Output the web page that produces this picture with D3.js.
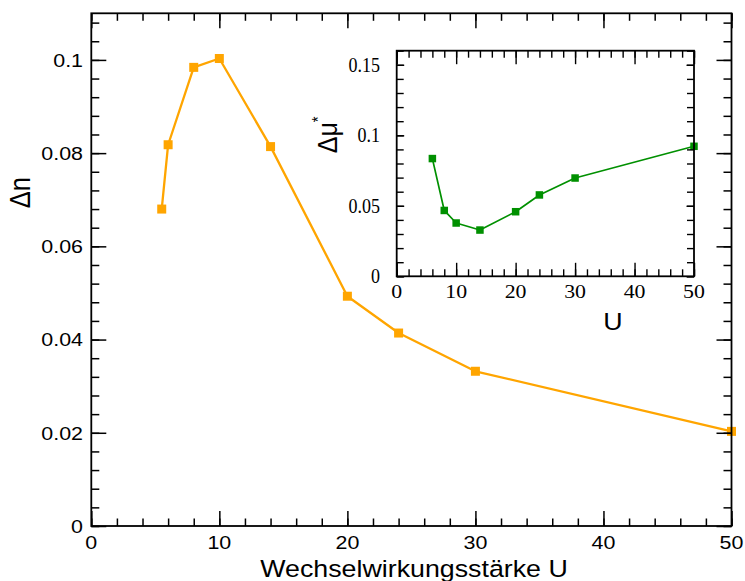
<!DOCTYPE html>
<html>
<head>
<meta charset="utf-8">
<script src="https://cdn.jsdelivr.net/npm/d3@7"></script>
<style>
  html, body { margin: 0; padding: 0; background: #fff; }
  svg { display: block; }
</style>
</head>
<body>
<svg id="chart" width="745" height="581"></svg>
<script>
// ---------------- data ----------------
const mainU = [5.5, 6, 8, 10, 14, 20, 24, 30, 50];
const mainDn = [0.068, 0.0818, 0.0984, 0.1003, 0.0814, 0.0493, 0.0414, 0.0332, 0.0203];
const mainXTicks = [0, 10, 20, 30, 40, 50];
const mainXTickLabels = ["0", "10", "20", "30", "40", "50"];
const mainYTicks = [0, 0.02, 0.04, 0.06, 0.08, 0.1];
const mainYTickLabels = ["0", "0.02", "0.04", "0.06", "0.08", "0.1"];

const insetU = [6, 8, 10, 14, 20, 24, 30, 50];
const insetDmu = [0.0835, 0.0467, 0.0378, 0.0328, 0.0458, 0.0577, 0.0697, 0.0922];
const insetXTicks = [0, 10, 20, 30, 40, 50];
const insetXTickLabels = ["0", "10", "20", "30", "40", "50"];
const insetYTicks = [0, 0.05, 0.1, 0.15];
const insetYTickLabels = ["0", "0.05", "0.1", "0.15"];

const mainXLabel = "Wechselwirkungsstärke U";
const insetXLabel = "U";

// ---------------- setup ----------------
const svg = d3.select("#chart");
const SX = 1.14; // horizontal stretch of glyphs as in the reference
const SANS = "'Liberation Sans', Arial, Helvetica, sans-serif";
const SERIF = "'Liberation Serif', 'Times New Roman', serif";

function label(g, txt, x, y, o = {}) {
  const t = g.append("text")
    .attr("transform", `translate(${x},${y}) scale(${o.sx ?? SX},1)` + (o.rot ? ` rotate(${o.rot})` : ""))
    .attr("text-anchor", o.anchor || "middle")
    .attr("font-family", o.font || SANS)
    .attr("font-size", o.size || 18.6)
    .attr("fill", "#000");
  if (o.dy) t.attr("dy", o.dy);
  t.text(txt);
  return t;
}

function frameAxes(g, x, y, o) {
  const [x0, x1] = x.range();
  const [y0, y1] = y.range(); // y0 bottom, y1 top
  const mk = (axis, tr) => {
    const a = g.append("g").attr("transform", tr).call(axis);
    a.select(".domain").remove();
    a.selectAll("text").remove();
    a.selectAll("line").attr("stroke", "#000").attr("stroke-width", o.tickW);
  };
  // minor
  mk(d3.axisBottom(x).tickValues(o.xMinor).tickSize(-o.xMinorLen).tickFormat(""), `translate(0,${y0})`);
  mk(d3.axisTop(x).tickValues(o.xMinor).tickSize(-o.xMinorLen).tickFormat(""), `translate(0,${y1})`);
  mk(d3.axisLeft(y).tickValues(o.yMinor).tickSize(-o.yMinorLen).tickFormat(""), `translate(${x0},0)`);
  mk(d3.axisRight(y).tickValues(o.yMinor).tickSize(-o.yMinorLen).tickFormat(""), `translate(${x1},0)`);
  // major
  mk(d3.axisBottom(x).tickValues(o.xMajor).tickSize(-o.xMajorLen).tickFormat(""), `translate(0,${y0})`);
  mk(d3.axisTop(x).tickValues(o.xMajor).tickSize(-o.xMajorLen).tickFormat(""), `translate(0,${y1})`);
  mk(d3.axisLeft(y).tickValues(o.yMajor).tickSize(-o.yMajorLen).tickFormat(""), `translate(${x0},0)`);
  mk(d3.axisRight(y).tickValues(o.yMajor).tickSize(-o.yMajorLen).tickFormat(""), `translate(${x1},0)`);
  g.append("rect")
    .attr("x", x0).attr("y", y1)
    .attr("width", x1 - x0).attr("height", y0 - y1)
    .attr("fill", "none").attr("stroke", "#000").attr("stroke-width", o.frameW);
}

// ---------------- main plot ----------------
const x = d3.scaleLinear().domain([0, 50]).range([91.3, 731.5]);
const y = d3.scaleLinear().domain([0, 0.11]).range([526, 13.3]);
const gm = svg.append("g");

const mainPts = mainU.map((u, i) => [u, mainDn[i]]);
gm.append("path")
  .datum(mainPts)
  .attr("fill", "none")
  .attr("stroke", "#FFA500")
  .attr("stroke-width", 2.3)
  .attr("stroke-linejoin", "round")
  .attr("d", d3.line().x(d => x(d[0])).y(d => y(d[1])));

const ms = 9;
gm.selectAll("rect.mk").data(mainPts).enter().append("rect")
  .attr("class", "mk")
  .attr("x", d => x(d[0]) - ms / 2).attr("y", d => y(d[1]) - ms / 2)
  .attr("width", ms).attr("height", ms)
  .attr("fill", "#FFA500");

frameAxes(gm, x, y, {
  xMinor: d3.range(0, 51, 2), xMajor: mainXTicks,
  yMinor: d3.range(0, 0.1101, 0.004).map(v => +v.toFixed(4)), yMajor: mainYTicks,
  xMajorLen: 15, xMinorLen: 7.5, yMajorLen: 15, yMinorLen: 8,
  tickW: 1.5, frameW: 1.8
});

mainXTicks.forEach((v, i) => label(gm, mainXTickLabels[i], x(v), 549, { size: 18.8 }));
mainYTicks.forEach((v, i) => label(gm, mainYTickLabels[i], 83, y(v), { size: 18.8, anchor: "end", dy: "0.36em" }));

label(gm, mainXLabel, 414, 577, { size: 23.5 });
label(gm, "Δn", 30, 208.3, { size: 25.5, anchor: "start", rot: -90 });

// ---------------- inset ----------------
const xi = d3.scaleLinear().domain([0, 50]).range([396.7, 694]);
const yi = d3.scaleLinear().domain([0, 0.16]).range([276.3, 50.7]);
const gi = svg.append("g");

gi.append("rect")
  .attr("x", 396.7).attr("y", 50.7)
  .attr("width", 694 - 396.7).attr("height", 276.3 - 50.7)
  .attr("fill", "#fff");

const insetPts = insetU.map((u, i) => [u, insetDmu[i]]);
gi.append("path")
  .datum(insetPts)
  .attr("fill", "none")
  .attr("stroke", "#009000")
  .attr("stroke-width", 1.7)
  .attr("stroke-linejoin", "round")
  .attr("d", d3.line().x(d => xi(d[0])).y(d => yi(d[1])));

const mi = 7.5;
gi.selectAll("rect.mk").data(insetPts).enter().append("rect")
  .attr("class", "mk")
  .attr("x", d => xi(d[0]) - mi / 2).attr("y", d => yi(d[1]) - mi / 2)
  .attr("width", mi).attr("height", mi)
  .attr("fill", "#009000");

frameAxes(gi, xi, yi, {
  xMinor: d3.range(0, 51, 2), xMajor: insetXTicks,
  yMinor: d3.range(0, 0.1601, 0.01).map(v => +v.toFixed(3)), yMajor: insetYTicks,
  xMajorLen: 13.5, xMinorLen: 7, yMajorLen: 7.5, yMinorLen: 7,
  tickW: 1.4, frameW: 1.8
});

insetXTicks.forEach((v, i) => label(gi, insetXTickLabels[i], xi(v), 298.3, { size: 19.5, font: SERIF, sx: 1.12 }));
insetYTicks.forEach((v, i) => label(gi, insetYTickLabels[i], 380, yi(v), { size: 20, font: SERIF, sx: 0.9, anchor: "end", dy: "0.34em" }));

label(gi, insetXLabel, 613, 330, { size: 23.5 });

// Δμ* rotated label with superscript asterisk
const tl = gi.append("text")
  .attr("transform", `translate(337,153.3) scale(${SX},1) rotate(-90)`)
  .attr("text-anchor", "start")
  .attr("font-family", SANS)
  .attr("font-size", 25)
  .attr("fill", "#000");
tl.append("tspan").text("Δμ");
tl.append("tspan").attr("dy", -11).attr("font-size", 15).text("*");
</script>
</body>
</html>
